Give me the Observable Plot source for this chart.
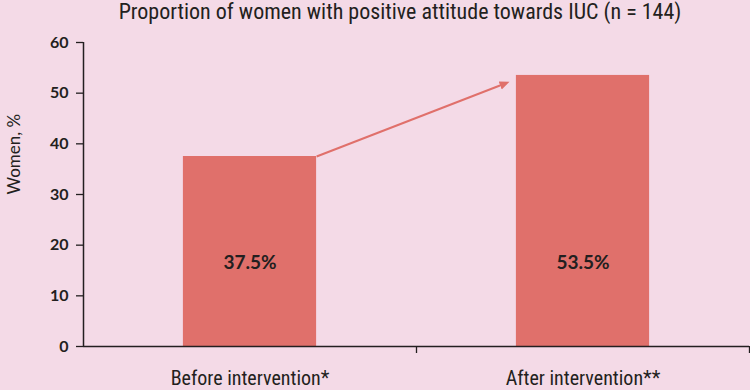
<!DOCTYPE html>
<html><head><meta charset="utf-8">
<script src="https://cdn.jsdelivr.net/npm/d3@7"></script>
<script src="https://cdn.jsdelivr.net/npm/@observablehq/plot@0.6"></script>
<style>
body{margin:0;background:#f4dae7;width:750px;height:390px;overflow:hidden}
#title{height:28px;line-height:24px;text-align:center;font-family:"Liberation Sans Narrow","Roboto Condensed","Roboto",sans-serif;font-size:22px;color:#231f20;padding-left:50px}
</style></head><body>
<div id="title">Proportion of women with positive attitude towards IUC (n = 144)</div>
<div id="chart"></div>
<script>
const categories = ["Before intervention*", "After intervention**"];
const values = [37.5, 53.5];
const valueLabels = ["37.5%", "53.5%"];
const yTicks = [0, 10, 20, 30, 40, 50, 60];

const data = categories.map((c, i) => ({cat: c, i, v: values[i], label: valueLabels[i]}));
const barColor = "#e0706b";
const ink = "#231f20";

const chart = Plot.plot({
  width: 750, height: 362,
  marginLeft: 83, marginRight: 1, marginTop: 14, marginBottom: 44,
  style: {background: "transparent", color: ink, fontFamily: "Lato, sans-serif"},
  x: {domain: [0, categories.length], axis: null},
  y: {domain: [0, 60], axis: null},
  marks: [
    Plot.rectY(data, {x1: d => d.i + 0.3, x2: d => d.i + 0.7, y1: 0, y2: "v", fill: barColor}),
    Plot.link([{a: data[0], b: data[1]}], {
      x1: d => d.a.i + 0.7, y1: d => d.a.v,
      x2: d => d.b.i + 0.27, y2: d => d.b.v - 1.5,
      stroke: barColor, strokeWidth: 2, markerEnd: "arrow"
    }),
    Plot.text(data, {x: d => d.i + 0.5, y: 0, dy: -84, text: "label", fontSize: 19, fontWeight: "bold", fill: ink, fontFamily: "Lato, sans-serif"}),
    Plot.ruleY([0], {stroke: ink, strokeWidth: 1.5}),
    Plot.ruleX([0], {stroke: ink, strokeWidth: 1.5}),
    Plot.axisY({ticks: yTicks, tickSize: 7, tickPadding: 8, fontSize: 16, fontWeight: "bold", fontFamily: "Lato, sans-serif", stroke: ink, strokeWidth: 1.3, label: null}),
    Plot.text(["Women, %"], {frameAnchor: "left", dx: -69, rotate: -90, fontSize: 17, fill: ink, fontFamily: "Lato, sans-serif"}),
    Plot.axisX({ticks: [1, 2], tickSize: 7, tickFormat: () => "", stroke: ink, strokeWidth: 1.3}),
    Plot.text(data, {x: d => d.i + 0.5, y: 0, dy: 32, text: "cat", fontSize: 20, fill: ink, fontFamily: "'Liberation Sans Narrow','Roboto Condensed',Roboto,sans-serif"})
  ]
});
chart.querySelectorAll("marker path").forEach(p => {
  p.setAttribute("d", "M-5,-3.2L2.5,0L-5,3.2Z");
  p.setAttribute("fill", barColor);
  p.setAttribute("stroke", "none");
});
document.getElementById("chart").appendChild(chart);
</script>
</body></html>
